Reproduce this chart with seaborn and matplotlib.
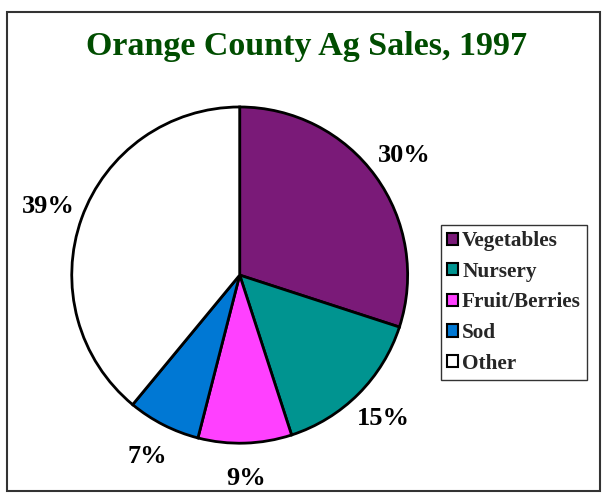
import matplotlib
matplotlib.use("Agg")
import matplotlib.pyplot as plt
import matplotlib.patches as mpatches
import seaborn as sns

categories = ["Vegetables", "Nursery", "Fruit/Berries", "Sod", "Other"]
shares = [30, 15, 9, 7, 39]
colors = ["#7a1a78", "#009490", "#ff40ff", "#0078d4", "#ffffff"]

sns.set_theme(style="white")
plt.rcParams["font.family"] = ["Liberation Serif", "DejaVu Serif"]

fig = plt.figure(figsize=(6.03, 4.93), dpi=100)
fig.patch.set_facecolor("white")

# outer frame
fig.add_artist(mpatches.Rectangle((0.012, 0.004), 0.983, 0.972, transform=fig.transFigure,
                                  fill=False, edgecolor="#333333", linewidth=1.5))

ax = fig.add_axes([0.119, 0.101, 0.557, 0.682])
wedges, texts, autotexts = ax.pie(
    shares, colors=colors, startangle=90, counterclock=False,
    autopct="%d%%", pctdistance=1.21,
    wedgeprops=dict(edgecolor="black", linewidth=2),
    textprops=dict(fontsize=19, fontweight="bold", color="black"),
)
ax.set_xlim(-1, 1)
ax.set_ylim(-1, 1)
ax.set_aspect("auto")
for t in autotexts:
    t.set_clip_on(False)

fig.text(0.508, 0.905, "Orange County Ag Sales, 1997", ha="center", va="center",
         fontsize=24.5, fontweight="bold", color="#004d00")

handles = [mpatches.Patch(facecolor=c, edgecolor="black", linewidth=1.5, label=l)
           for c, l in zip(colors, categories)]
leg = fig.legend(handles=handles, loc="upper left", bbox_to_anchor=(0.731, 0.544),
                 frameon=True, fancybox=False, edgecolor="black",
                 prop=dict(family=["Liberation Serif"], weight="bold", size=15.3),
                 handlelength=0.5, handleheight=0.5, handletextpad=0.2,
                 labelspacing=0.5, borderpad=0.3, borderaxespad=0)
leg.get_frame().set_linewidth(1)

fig.savefig("out.png", dpi=100)
